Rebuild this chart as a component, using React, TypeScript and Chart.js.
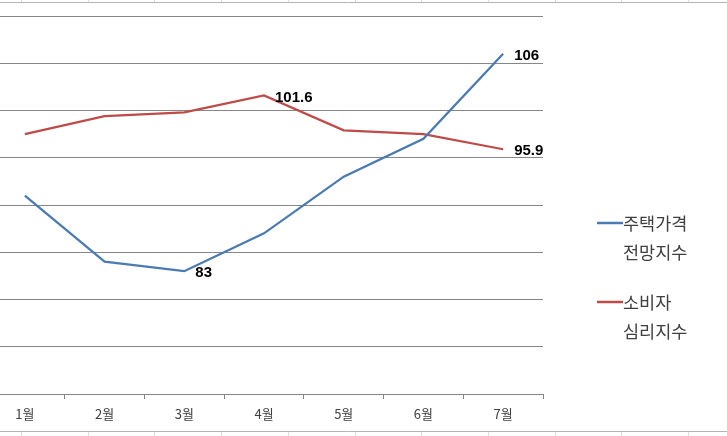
import React, { useEffect, useRef } from "react";
import { Chart, registerables } from "chart.js";

Chart.register(...registerables);

// ---- Data ----
const months = ["1월", "2월", "3월", "4월", "5월", "6월", "7월"];
const housingOutlook = [91, 84, 83, 87, 93, 97, 106];
const consumerSentiment = [97.5, 99.4, 99.8, 101.6, 97.9, 97.5, 95.9];
const seriesNames = ["주택가격 전망지수", "소비자 심리지수"];
const seriesColors = ["#4A7AB2", "#BE4B48"];
const labeledIndexes = [
  [2, 6],
  [3, 6],
];
const yMin = 70;
const yMax = 110;
const yStep = 5;

const CANVAS_SHIFT = 30;
const CANVAS_W = 727 + CANVAS_SHIFT;
const CANVAS_H = 436;

const sheetGridPlugin = {
  id: "sheetGrid",
  beforeDraw(chart: any) {
    const ctx = chart.ctx;
    ctx.save();
    ctx.fillStyle = "#ffffff";
    ctx.fillRect(0, 0, chart.width, chart.height);
    ctx.strokeStyle = "#b4b4b4";
    ctx.lineWidth = 1;
    ctx.beginPath();
    ctx.moveTo(0, 2.5);
    ctx.lineTo(chart.width, 2.5);
    ctx.moveTo(0, 431.5);
    ctx.lineTo(chart.width, 431.5);
    ctx.stroke();
    ctx.strokeStyle = "#dcdcdc";
    ctx.beginPath();
    for (let i = 0; i < 12; i++) {
      const x = Math.round(CANVAS_SHIFT + 21 + i * 66.7) + 0.5;
      ctx.moveTo(x, 0);
      ctx.lineTo(x, 2);
      ctx.moveTo(x, 432);
      ctx.lineTo(x, CANVAS_H);
    }
    ctx.stroke();
    ctx.restore();
  },
};

const dataLabelPlugin = {
  id: "pointLabels",
  afterDatasetsDraw(chart: any) {
    const ctx = chart.ctx;
    ctx.save();
    ctx.font = "bold 15px 'Liberation Sans', Arial, sans-serif";
    ctx.fillStyle = "#000000";
    ctx.textBaseline = "middle";
    ctx.textAlign = "left";
    chart.data.datasets.forEach((ds: any, i: number) => {
      const meta = chart.getDatasetMeta(i);
      labeledIndexes[i].forEach((idx) => {
        const pt = meta.data[idx];
        ctx.fillText(String(ds.data[idx]), pt.x + 11, pt.y + 2);
      });
    });
    ctx.restore();
  },
};

const sideLegendPlugin = {
  id: "sideLegend",
  afterDraw(chart: any) {
    const { ctx, chartArea } = chart;
    const x0 = chartArea.right + 54;
    let y = chartArea.top + 207;
    ctx.save();
    ctx.font = "17.5px 'Noto Sans CJK KR', sans-serif";
    ctx.textBaseline = "middle";
    ctx.textAlign = "left";
    chart.data.datasets.forEach((ds: any) => {
      ctx.strokeStyle = ds.borderColor;
      ctx.lineWidth = 2.5;
      ctx.beginPath();
      ctx.moveTo(x0, y);
      ctx.lineTo(x0 + 26, y);
      ctx.stroke();
      ctx.fillStyle = "#404040";
      String(ds.label)
        .split(" ")
        .forEach((ln: string, j: number) => {
          ctx.fillText(ln, x0 + 26, y + j * 29);
        });
      y += 79;
    });
    ctx.restore();
  },
};

export default function App() {
  const ref = useRef<HTMLCanvasElement | null>(null);

  useEffect(() => {
    if (!ref.current) return;
    const chart = new Chart(ref.current, {
      type: "line",
      data: {
        labels: months,
        datasets: [
          {
            label: seriesNames[0],
            data: housingOutlook,
            borderColor: seriesColors[0],
            backgroundColor: seriesColors[0],
            borderWidth: 2.25,
            pointRadius: 0,
            tension: 0,
          },
          {
            label: seriesNames[1],
            data: consumerSentiment,
            borderColor: seriesColors[1],
            backgroundColor: seriesColors[1],
            borderWidth: 2.25,
            pointRadius: 0,
            tension: 0,
          },
        ],
      },
      options: {
        responsive: false,
        animation: false,
        devicePixelRatio: 1,
        layout: { padding: { left: 15, right: 184, top: 16, bottom: 0 } },
        plugins: {
          legend: { display: false },
          tooltip: { enabled: false },
        },
        scales: {
          x: {
            offset: true,
            grid: {
              offset: true,
              drawOnChartArea: false,
              drawTicks: true,
              tickLength: 5,
              color: "#868686",
            },
            border: { display: true, color: "#868686" },
            ticks: {
              color: "#404040",
              font: { family: "'Noto Sans CJK KR', sans-serif", size: 13 },
              padding: 7,
              maxRotation: 0,
            },
            afterFit: (s: any) => {
              s.height = 42;
            },
          },
          y: {
            min: yMin,
            max: yMax,
            ticks: { stepSize: yStep, display: false },
            grid: { color: "#868686", drawTicks: false },
            border: { display: false },
            afterFit: (s: any) => {
              s.width = 0;
            },
          },
        },
      } as any,
      plugins: [sheetGridPlugin, dataLabelPlugin, sideLegendPlugin],
    });
    return () => chart.destroy();
  }, []);

  return (
    <div
      style={{
        position: "fixed",
        left: 0,
        top: 0,
        width: 727,
        height: 436,
        overflow: "hidden",
        background: "#fff",
      }}
    >
      <canvas
        ref={ref}
        width={CANVAS_W}
        height={CANVAS_H}
        style={{ position: "absolute", left: -CANVAS_SHIFT, top: 0, width: CANVAS_W, height: CANVAS_H }}
      />
    </div>
  );
}
